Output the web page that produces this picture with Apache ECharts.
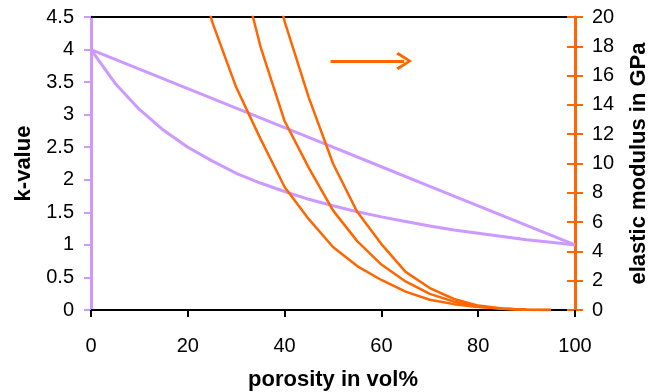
<!DOCTYPE html>
<html>
<head>
<meta charset="utf-8">
<script src="https://cdn.jsdelivr.net/npm/echarts@6/dist/echarts.min.js"></script>
<style>
  html, body { margin: 0; padding: 0; background: #fff; }
  #chart { width: 650px; height: 392px; }
</style>
</head>
<body>
<div id="chart"></div>
<script>
// k-value curves (left axis)
const kLowerX = [0, 5, 10, 15, 20, 25, 30, 35, 40, 45, 50, 55, 60, 65, 70, 75, 80, 85, 90, 95, 100];
const kLower = [4, 3.48, 3.08, 2.76, 2.5, 2.29, 2.1, 1.95, 1.82, 1.7, 1.6, 1.51, 1.43, 1.36, 1.29, 1.23, 1.18, 1.13, 1.08, 1.04, 1.0];
const kUpperX = [0, 10, 20, 30, 40, 50, 60, 70, 80, 90, 100];
const kUpper = [4, 3.7, 3.4, 3.1, 2.8, 2.5, 2.2, 1.9, 1.6, 1.3, 1.0];

// elastic modulus curves (right axis, GPa)
const eAX = [20, 25, 30, 35, 40, 45, 50, 55, 60, 65, 70, 75, 80, 85, 90, 95];
const eA = [26.5, 19.7, 15.2, 11.7, 8.4, 6.2, 4.3, 3.0, 2.05, 1.25, 0.7, 0.4, 0.2, 0.08, 0.02, 0];
const eBX = [30, 35, 40, 45, 50, 55, 60, 65, 70, 75, 80, 85, 90, 95];
const eB = [24.5, 18.0, 12.9, 9.7, 6.8, 4.7, 3.1, 1.95, 1.1, 0.57, 0.25, 0.08, 0.02, 0];
const eCX = [35, 40, 45, 50, 55, 60, 65, 70, 75, 80, 85, 90, 95];
const eC = [26.5, 19.7, 14.5, 10.0, 6.7, 4.5, 2.6, 1.5, 0.75, 0.3, 0.1, 0.02, 0];

// arrow pointing to the right axis (in data coords: porosity, GPa)
const arrowFrom = [49.5, 17];
const arrowTo = [64.7, 17];

const PURPLE = '#CC99FF';
const ORANGE = '#FF6600';
const FONT = '"Liberation Sans", Arial, sans-serif';

const pairs = (xs, ys) => xs.map((x, i) => [x, ys[i]]);

const chart = echarts.init(document.getElementById('chart'));

const labelStyle = { fontFamily: FONT, fontSize: 20, color: '#000' };
const nameStyle = { fontFamily: FONT, fontSize: 22, fontWeight: 'bold', color: '#000' };
const gridBox = { left: 91, right: 75, top: 17, bottom: 82, outerBoundsMode: 'none', containLabel: false };

chart.setOption({
  animation: false,
  backgroundColor: '#fff',
  grid: [gridBox, Object.assign({}, gridBox)],
  xAxis: [
    {
      type: 'value', min: 0, max: 100, interval: 20, gridIndex: 0,
      name: 'porosity in vol%', nameLocation: 'middle', nameGap: 59,
      nameTextStyle: nameStyle,
      axisLine: { lineStyle: { color: '#000', width: 2 } },
      axisTick: { length: 7, lineStyle: { color: '#000', width: 2 } },
      axisLabel: Object.assign({ margin: 26 }, labelStyle),
      splitLine: { show: false }
    },
    {
      type: 'value', min: 0, max: 100, position: 'top', gridIndex: 0,
      axisLine: { onZero: false, lineStyle: { color: '#000', width: 2 } },
      axisTick: { show: false }, axisLabel: { show: false }, splitLine: { show: false }
    },
    {
      // helper axis of the overlay grid
      type: 'value', min: 0, max: 100, gridIndex: 1, show: false
    }
  ],
  yAxis: [
    {
      type: 'value', min: 0, max: 4.5, interval: 0.5, position: 'left', gridIndex: 0,
      name: 'k-value', nameLocation: 'middle', nameGap: 56, nameRotate: 90,
      nameTextStyle: nameStyle,
      axisLine: { show: true, onZero: false, lineStyle: { color: PURPLE, width: 3 } },
      axisTick: { show: true, length: 7, lineStyle: { color: PURPLE, width: 2 } },
      axisLabel: Object.assign({ margin: 17 }, labelStyle),
      splitLine: { show: false }
    },
    {
      type: 'value', min: 0, max: 20, interval: 2, position: 'right', gridIndex: 0,
      name: 'elastic modulus in GPa', nameLocation: 'middle', nameGap: 53, nameRotate: 90,
      nameTextStyle: nameStyle,
      axisLine: { show: true, onZero: false, lineStyle: { color: ORANGE, width: 3 } },
      axisTick: { show: true, length: 8, lineStyle: { color: ORANGE, width: 2 } },
      axisLabel: Object.assign({ margin: 17 }, labelStyle),
      splitLine: { show: false }
    },
    {
      // inner half of the crossing ticks on the right axis
      type: 'value', min: 0, max: 20, interval: 2, position: 'right', gridIndex: 1,
      axisLine: { show: false, onZero: false },
      axisTick: { show: true, inside: true, length: 8, lineStyle: { color: ORANGE, width: 2 } },
      axisLabel: { show: false },
      splitLine: { show: false }
    }
  ],
  series: [
    {
      name: 'k upper', type: 'line', xAxisIndex: 0, yAxisIndex: 0, symbol: 'none',
      data: pairs(kUpperX, kUpper),
      lineStyle: { color: PURPLE, width: 3 }
    },
    {
      name: 'k lower', type: 'line', xAxisIndex: 0, yAxisIndex: 0, symbol: 'none',
      data: pairs(kLowerX, kLower),
      lineStyle: { color: PURPLE, width: 3 }
    },
    {
      name: 'E a', type: 'line', xAxisIndex: 0, yAxisIndex: 1, symbol: 'none', clip: true,
      data: pairs(eAX, eA),
      lineStyle: { color: ORANGE, width: 2.5 }
    },
    {
      name: 'E b', type: 'line', xAxisIndex: 0, yAxisIndex: 1, symbol: 'none', clip: true,
      data: pairs(eBX, eB),
      lineStyle: { color: ORANGE, width: 2.5 }
    },
    {
      name: 'E c', type: 'line', xAxisIndex: 0, yAxisIndex: 1, symbol: 'none', clip: true,
      data: pairs(eCX, eC),
      lineStyle: { color: ORANGE, width: 2.5 },
      markLine: {
        silent: true,
        symbol: ['none', 'path://M8,0 L16,13 L14,15 L8,4.5 L2,15 L0,13 Z'],
        symbolSize: [18, 16],
        label: { show: false },
        lineStyle: { color: ORANGE, width: 3, type: 'solid' },
        itemStyle: { color: ORANGE },
        data: [[{ coord: arrowFrom }, { coord: arrowTo }]]
      }
    }
  ]
});
</script>
</body>
</html>
